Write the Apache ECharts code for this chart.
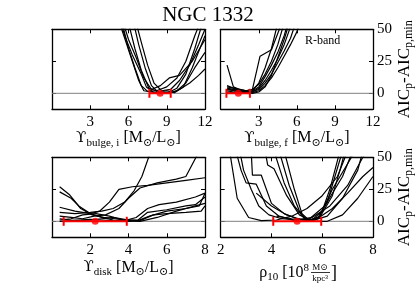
<!DOCTYPE html>
<html><head><meta charset="utf-8">
<script src="https://cdn.jsdelivr.net/npm/echarts@6/dist/echarts.min.js"></script>
<style>html,body{margin:0;padding:0;background:#fff}#c{width:416px;height:297px}</style>
</head><body><div id="c"></div>
<script>
const titleText = 'NGC 1332';
const yTicks = [0, 25, 50];
const yRange = [-12.5, 50];

// Panel 1: Upsilon bulge, i
const p1Range = [0, 12];
const p1Ticks = [3, 6, 9, 12];
const p1Curves = [
  [[5.3,55],[5.8,40],[6.3,25],[6.8,10],[7.2,2],[7.8,1],[8.5,0.5],[9.2,1],[9.8,4],[10.5,15],[11.2,35],[11.8,55]],
  [[5.5,55],[6,35],[6.5,20],[7,6],[7.5,1.5],[8.2,2],[9,5],[9.8,12],[10.5,25],[11.2,45],[11.6,55]],
  [[6.4,55],[6.8,38],[7.3,20],[7.8,6],[8.3,1],[9,0],[9.8,2],[10.5,8],[11.2,20],[12,32]],
  [[6.6,55],[7,40],[7.5,22],[8,8],[8.6,2],[9.3,3],[10,10],[10.8,22],[11.5,38],[12,50]],
  [[5.6,55],[6,42],[6.6,28],[7.2,12],[7.8,3],[8.5,6],[9.2,12],[10,14],[11,25],[12,42]],
  [[5.4,55],[5.7,45],[6.3,30],[7,15],[7.4,5],[8,0.5],[8.8,0],[9.5,1],[10,3],[10.8,8],[11.5,14],[12,19]],
  [[6,55],[6.5,35],[7,18],[7.6,4],[8.4,1],[9,2],[9.6,0.5],[10.3,5],[11,20],[11.6,35],[12,45]]
];
const p1Err = {best: 8.48, lo: 7.64, hi: 9.31};

// Panel 2: Upsilon bulge, f
const p2Range = [0, 12];
const p2Ticks = [3, 6, 9, 12];
const p2Curves = [
  [[0.5,22],[1,5],[1.5,3],[2,2],[2.5,3],[3,7],[3.5,15],[4,25],[4.5,38],[5,55]],
  [[0.5,3],[1,2],[1.5,1],[2,1],[2.5,2],[3,8],[3.5,20],[4,35],[4.5,55]],
  [[0.5,4],[1,3],[1.5,2],[2,2],[2.5,3],[3.1,29],[4,34],[4.7,52],[4.8,55]],
  [[0.5,5],[1,4],[1.5,3],[2,2],[2.5,1],[3,4],[3.5,10],[4,18],[4.5,27],[5,38],[5.5,52],[5.6,55]],
  [[0.5,2],[1,1],[1.5,1],[2,0.5],[2.5,0.5],[3,2],[3.5,6],[4,12],[4.5,20],[5,29],[5.5,38],[6,48],[6.2,55]],
  [[0.5,3],[1,2.5],[1.5,2],[2,1],[2.5,1.5],[3,3],[3.5,8],[4,15],[4.5,24],[5,33],[5.5,43],[5.9,55]],
  [[0.5,6],[1,4],[1.5,2],[2,1],[2.5,2],[3,5],[3.5,13],[4,22],[4.5,32],[5,45],[5.3,55]],
  [[0.5,1],[1,0.5],[1.5,1],[2,0.5],[2.5,0],[3,1],[3.5,5],[4,14],[4.5,28],[5,42],[5.4,55]]
];
const p2Err = {best: 1.39, lo: 0.45, hi: 2.3};

// Panel 3: Upsilon disk
const p3Range = [0, 8];
const p3Ticks = [2, 4, 6, 8];
const p3Curves = [
  [[0.4,27],[0.9,21],[1.5,10],[2.1,5],[2.7,3],[3.3,2],[4,0.5],[4.6,0],[5.5,3],[6.5,8],[7.5,12],[8,14]],
  [[0.4,23],[1,18],[1.4,12],[2,6],[2.6,3],[3.2,1],[3.8,0.5],[4.4,3],[5,10],[5.6,13],[6.5,15],[7.5,19],[8,22]],
  [[0.4,11],[1.2,8],[2,6],[2.5,8],[3,15],[3.5,25],[4.2,27],[5,28],[6,30],[7,32],[8,34]],
  [[0.4,7],[1.2,6],[2,7],[2.6,8],[3.2,10],[3.8,15],[4.3,24],[4.7,35],[5.1,52],[5.15,55]],
  [[0.4,4],[1,3],[1.6,2],[2.2,4],[2.8,5],[3.5,10],[4,18],[4.6,26],[5.5,30],[6.5,33],[7,35],[7.6,52],[7.7,55]],
  [[0.4,1],[1,2],[1.6,5],[2.3,6],[3,4],[3.7,1],[4.5,1],[5,7],[6,9],[7,12],[7.5,13],[8,19]],
  [[0.4,2],[1,1],[1.5,0.5],[2,1],[2.6,2],[3.2,3],[4,1],[4.5,0.5],[5.1,4],[6,8],[7,10],[7.7,12],[8,22]],
  [[0.4,0],[1,0.5],[2,1.5],[2.6,1],[3.2,0.5],[4,0],[4.6,0.5],[5.3,5],[6,6],[7,7],[7.8,8],[8,12]]
];
const p3Err = {best: 2.26, lo: 0.61, hi: 3.91};

// Panel 4: rho10
const p4Range = [2, 8];
const p4Ticks = [2, 4, 6, 8];
const p4Curves = [
  [[2.35,55],[2.65,18],[3.1,3],[3.6,0.5],[4.2,1],[4.8,4],[5.4,10],[6,20],[6.6,35],[7,55]],
  [[2.75,55],[2.9,40],[3.2,25],[3.5,12],[3.9,5],[4.4,2],[5,1],[5.6,3],[6.3,12],[7,28],[7.6,50],[7.8,55]],
  [[3.2,55],[3.25,36],[3.6,36],[4,14],[4.5,6],[5,2],[5.6,0.5],[6.2,4],[6.8,18],[7.4,40],[7.6,55]],
  [[3.75,55],[3.85,44],[4.1,41],[4.6,20],[5.1,5],[5.5,1],[5.9,3],[6.4,20],[6.7,40],[6.9,55]],
  [[4.1,55],[4.5,30],[4.9,12],[5.3,2],[5.6,1],[6,8],[6.3,25],[6.5,40],[6.7,55]],
  [[4.3,55],[4.7,28],[5.1,8],[5.4,1],[5.8,2],[6.2,15],[6.5,35],[6.8,55]],
  [[4.5,55],[4.9,25],[5.2,6],[5.5,0.5],[5.9,4],[6.4,25],[7,45],[7.3,55]],
  [[3.4,22],[4,12],[4.6,5],[5.2,1],[5.8,0],[6.2,0],[6.8,5],[7.4,18],[8,35]],
  [[4.2,4],[4.8,2],[5.2,1.5],[5.8,2],[6.4,10],[7,22],[7.6,35],[8,42]],
  [[2.6,55],[2.8,40],[3,30],[3.4,29],[3.8,12],[4.3,4],[4.9,0.5],[5.5,2],[6.1,12],[6.8,35],[7.2,55]]
];
const p4Err = {best: 5.01, lo: 4.07, hi: 5.96};

const FONT = "'Liberation Serif','DejaVu Serif',serif";
const UPS = "'DejaVu Serif','Liberation Serif',serif";
const rich = {
  g: {fontFamily: UPS, fontSize: 15, color: '#000', lineHeight: 20},
  m: {fontFamily: FONT, fontSize: 16, color: '#000', lineHeight: 20},
  s: {fontFamily: FONT, fontSize: 11, color: '#000', lineHeight: 12, verticalAlign: 'bottom'}
};
const richY = {
  m: {fontFamily: FONT, fontSize: 17, color: '#000', lineHeight: 20},
  s: {fontFamily: FONT, fontSize: 12, color: '#000', lineHeight: 12, verticalAlign: 'bottom'}
};

const panels = [
  {range: p1Range, ticks: p1Ticks, curves: p1Curves, err: p1Err,
   grid: {left: 52, top: 29.3, width: 153, height: 80},
   xname: '{g|ϒ}{s|bulge, i}{m| [M}{s|⊙}{m|/L}{s|⊙}{m|]}', nameGap: 16, right: false},
  {range: p2Range, ticks: p2Ticks, curves: p2Curves, err: p2Err,
   grid: {left: 220.7, top: 29.3, width: 153.3, height: 80},
   xname: '{g|ϒ}{s|bulge, f}{m| [M}{s|⊙}{m|/L}{s|⊙}{m|]}', nameGap: 16, right: true},
  {range: p3Range, ticks: p3Ticks, curves: p3Curves, err: p3Err,
   grid: {left: 52, top: 157.3, width: 153, height: 80},
   xname: '{g|ϒ}{s|disk}{m| [M}{s|⊙}{m|/L}{s|⊙}{m|]}', nameGap: 20, right: false},
  {range: p4Range, ticks: p4Ticks, curves: p4Curves, err: p4Err,
   grid: {left: 220.7, top: 157.3, width: 153.3, height: 80},
   xname: '', nameGap: 20, right: true}
];

const axisLine = {show: true, onZero: false, lineStyle: {color: '#000', width: 1.3}};
const tickStyle = {color: '#000', width: 1};

const grids = [], xAxes = [], yAxes = [], series = [];
panels.forEach((p, i) => {
  grids.push(Object.assign({containLabel: false}, p.grid));
  xAxes.push({type: 'value', gridIndex: i, position: 'bottom', min: p.range[0], max: p.range[1],
    axisLine, splitLine: {show: false},
    axisTick: {show: true, inside: true, length: 4, customValues: p.ticks, lineStyle: tickStyle},
    axisLabel: {show: true, customValues: p.ticks, fontFamily: FONT, fontSize: 15, color: '#000', margin: 5},
    name: p.xname, nameLocation: 'middle', nameGap: p.nameGap, nameTextStyle: {rich}});
  xAxes.push({type: 'value', gridIndex: i, position: 'top', min: p.range[0], max: p.range[1],
    axisLine, splitLine: {show: false},
    axisTick: {show: true, inside: true, length: 4, customValues: p.ticks, lineStyle: tickStyle},
    axisLabel: {show: false}});
  yAxes.push({type: 'value', gridIndex: i, position: 'left', min: yRange[0], max: yRange[1],
    axisLine, splitLine: {show: false},
    axisTick: {show: true, inside: true, length: 4, customValues: yTicks, lineStyle: tickStyle},
    axisLabel: {show: false}});
  yAxes.push({type: 'value', gridIndex: i, position: 'right', min: yRange[0], max: yRange[1],
    axisLine, splitLine: {show: false},
    axisTick: {show: true, inside: true, length: 4, customValues: yTicks, lineStyle: tickStyle},
    axisLabel: {show: p.right, customValues: yTicks, fontFamily: FONT, fontSize: 15, color: '#000', margin: 4},
    name: p.right ? '{m|AIC}{s|p}{m|-AIC}{s|p,min}' : '', nameLocation: 'middle', nameRotate: 90,
    nameGap: 22, nameTextStyle: {rich: richY}});
  const xi = 2 * i, yi = 2 * i;
  series.push({type: 'line', xAxisIndex: xi, yAxisIndex: yi, data: [[p.range[0], 0], [p.range[1], 0]],
    symbol: 'none', lineStyle: {color: '#808080', width: 1}, z: 1, silent: true});
  p.curves.forEach(c => series.push({type: 'line', xAxisIndex: xi, yAxisIndex: yi, data: c,
    symbol: 'none', clip: true, lineStyle: {color: '#000', width: 1.2}, z: 2, silent: true}));
  series.push({type: 'line', xAxisIndex: xi, yAxisIndex: yi, data: [[p.err.lo, 0], [p.err.hi, 0]],
    symbol: 'rect', symbolSize: [2, 9], showSymbol: true, itemStyle: {color: '#ff0000'},
    lineStyle: {color: '#ff0000', width: 2}, z: 3, clip: false, silent: true});
  series.push({type: 'scatter', xAxisIndex: xi, yAxisIndex: yi, data: [[p.err.best, 0]],
    symbol: 'circle', symbolSize: 7, itemStyle: {color: '#ff0000'}, z: 4, silent: true});
});

const chart = echarts.init(document.getElementById('c'), null, {renderer: 'canvas'});
chart.setOption({
  animation: false,
  backgroundColor: '#fff',
  title: {text: titleText, left: 'center', top: 0, textStyle: {fontFamily: FONT, fontSize: 21, fontWeight: 'normal', color: '#000'}},
  grid: grids, xAxis: xAxes, yAxis: yAxes, series,
  graphic: [
    {type: 'text', left: 305, top: 35, style: {text: 'R-band', fontFamily: FONT, fontSize: 12, fill: '#000'}},
    {type: 'text', x: 309, y: 273, style: {text: '{m|ρ}{s|10}{m| [10}{u|8}', align: 'right', verticalAlign: 'middle',
      rich: {m: {fontFamily: FONT, fontSize: 16, fill: '#000', lineHeight: 20},
             s: {fontFamily: FONT, fontSize: 11, fill: '#000', lineHeight: 12, verticalAlign: 'bottom'},
             u: {fontFamily: FONT, fontSize: 11, fill: '#000', lineHeight: 12, verticalAlign: 'top'}}}},
    {type: 'text', x: 320, y: 267.5, style: {text: 'M⊙', align: 'center', verticalAlign: 'middle', fontFamily: FONT, fontSize: 9, fill: '#000'}},
    {type: 'line', shape: {x1: 311, y1: 272.5, x2: 330, y2: 272.5}, style: {stroke: '#000', lineWidth: 0.8}},
    {type: 'text', x: 320, y: 278.5, style: {text: 'kpc³', align: 'center', verticalAlign: 'middle', fontFamily: FONT, fontSize: 9, fill: '#000'}},
    {type: 'text', x: 331, y: 273, style: {text: ']', align: 'left', verticalAlign: 'middle', fontFamily: FONT, fontSize: 18, fill: '#000'}}
  ]
});
</script></body></html>
